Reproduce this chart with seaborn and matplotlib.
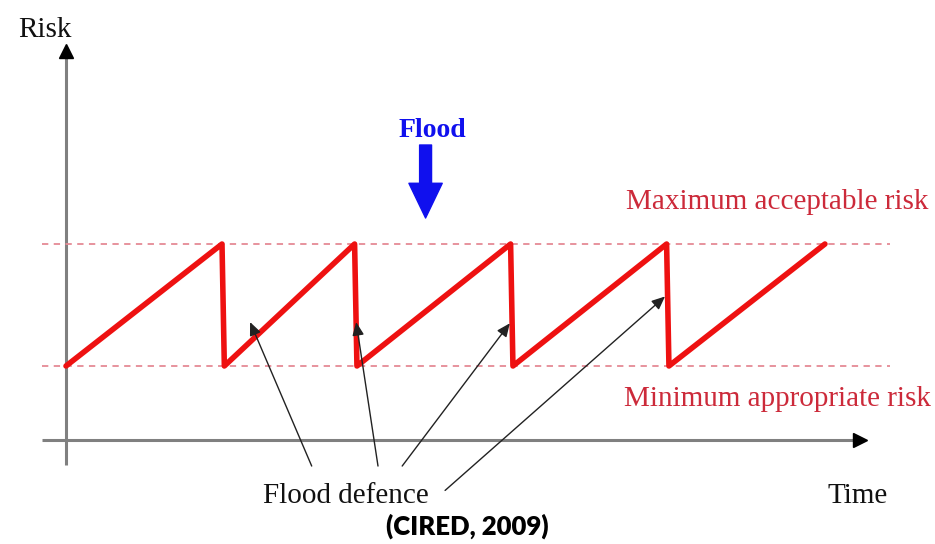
from matplotlib import pyplot as plt
import seaborn as sns
import numpy as np
import pandas as pd

# sawtooth of risk over time (risk: 1 = minimum appropriate, 2 = maximum acceptable)
time = [0, 20, 20.3, 37, 37.3, 57, 57.3, 77, 77.3, 97.3]
risk = [1, 2, 1, 2, 1, 2, 1, 2, 1, 2]
risk_max = 2
risk_min = 1

# flood defence arrows (head on the line, tail near the label)
defence_head_t = [23.6, 37.2, 56.9, 76.8]
defence_head_r = [1.36, 1.36, 1.35, 1.57]
defence_tail_t = [31.5, 40.0, 43.1, 48.6]
defence_tail_r = [0.18, 0.18, 0.18, -0.02]

sns.set_style("white")
plt.rcParams['font.family'] = ['Liberation Serif', 'DejaVu Serif']

fig = plt.figure(figsize=(9.35, 5.44), dpi=100)
ax = fig.add_axes([0, 0, 1, 1])
ax.set_xlim(-66 / 7.8, (935 - 66) / 7.8)
ax.set_ylim(1 - 178 / 122, 1 + 366 / 122)
ax.axis("off")

# axes with arrows
ax.plot([0, 0], [0.19, 3.55], color="#808080", lw=2.2, solid_capstyle="butt")
ax.plot([0], [3.58], marker="^", color="black", markersize=10)
ax.plot([-3.1, 101.5], [0.393, 0.393], color="#808080", lw=2.2, solid_capstyle="butt")
ax.plot([101.8], [0.393], marker=">", color="black", markersize=10)

# threshold lines
for lvl in [risk_max, risk_min]:
    ax.plot([-3.1, 105.6], [lvl, lvl], color="#e58a95", lw=1.3, ls=(0, (3.5, 3)))

df = pd.DataFrame({"time": time, "risk": risk})
sns.lineplot(data=df, x="time", y="risk", sort=False, color="#ee1111", lw=4.0, ax=ax)

# flood defence arrows
for ht, hr, tt, tr in zip(defence_head_t, defence_head_r, defence_tail_t, defence_tail_r):
    ax.annotate("", xy=(ht, hr), xytext=(tt, tr),
                arrowprops=dict(arrowstyle="-|>,head_length=0.8,head_width=0.35",
                                color="#222222", lw=1.0, shrinkA=0, shrinkB=0))

# flood arrow
ax.annotate("", xy=(46.1, 1 + (366 - 218) / 122), xytext=(46.1, 1 + (366 - 145) / 122),
            arrowprops=dict(arrowstyle="simple,head_length=1.25,head_width=1.2,tail_width=0.43",
                            color="#1010ee", mutation_scale=20, shrinkA=0, shrinkB=0))

def ft(x, y, s, **kw):
    fig.text(x / 935, 1 - y / 544, s, **kw)

ft(45, 37, "Risk", fontsize=21, ha="center", va="baseline", color="#111111")
ft(432, 137, "Flood", fontsize=20, fontweight="bold", ha="center", va="baseline", color="#1010ee")
ft(928, 209, "Maximum acceptable risk", fontsize=21, ha="right", va="baseline", color="#cc2a3a")
ft(931, 406, "Minimum appropriate risk", fontsize=21, ha="right", va="baseline", color="#cc2a3a")
ft(346, 503, "Flood defence", fontsize=21, ha="center", va="baseline", color="#111111")
ft(858, 503, "Time", fontsize=21, ha="center", va="baseline", color="#111111")
ft(467, 526, "(CIRED, 2009)", fontsize=18.5, fontweight="heavy", ha="center", va="center",
   family=["Lato", "DejaVu Sans"], color="black")

plt.savefig("out.png", dpi=100)
